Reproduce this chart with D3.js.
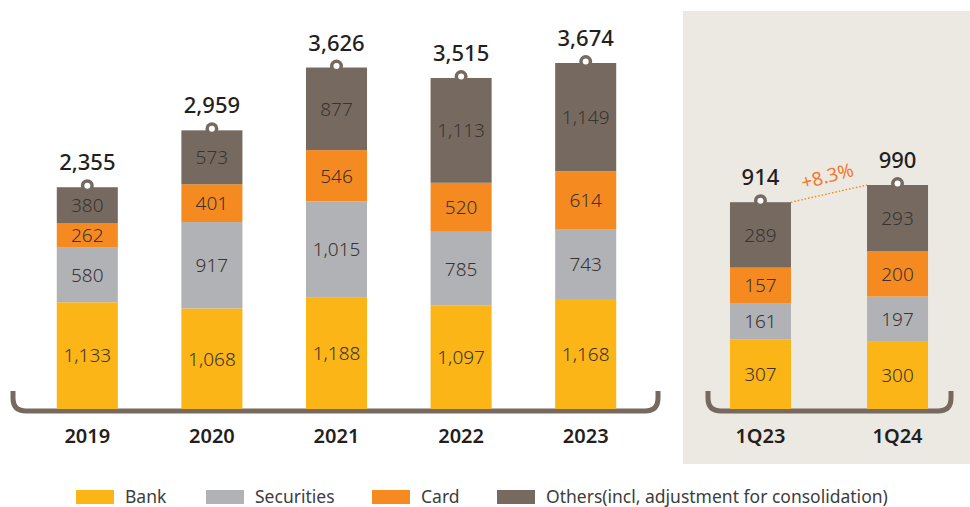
<!DOCTYPE html>
<html>
<head>
<meta charset="utf-8">
<script src="https://cdn.jsdelivr.net/npm/d3@7"></script>
<style>
  body { margin: 0; background: #fff; }
  svg { display: block; font-family: "Noto Sans", "Open Sans", sans-serif; }
</style>
</head>
<body>
<svg id="chart" width="970" height="507"></svg>
<script>
// data
var years = ['2019', '2020', '2021', '2022', '2023'];
var quarters = ['1Q23', '1Q24'];
var seriesNames = ['Bank', 'Securities', 'Card', 'Others(incl, adjustment for consolidation)'];

var bankY = [1133, 1068, 1188, 1097, 1168];
var securitiesY = [580, 917, 1015, 785, 743];
var cardY = [262, 401, 546, 520, 614];
var othersY = [380, 573, 877, 1113, 1149];

var bankQ = [307, 300];
var securitiesQ = [161, 197];
var cardQ = [157, 200];
var othersQ = [289, 293];

var growthLabel = '+8.3%';

var colors = ['#fbb516', '#b1b2b6', '#f58a21', '#766a60'];
var bracketColor = '#766a60';

var svg = d3.select('#chart');

// right panel background
svg.append('rect')
  .attr('x', 683).attr('y', 11)
  .attr('width', 287).attr('height', 453)
  .attr('fill', '#ece9e3');

function buildRows(cats, a, b, c, d) {
  return cats.map(function(k, i) {
    return {key: k, Bank: a[i], Securities: b[i], Card: c[i], Others: d[i],
      total: a[i] + b[i] + c[i] + d[i]};
  });
}

var keys = ['Bank', 'Securities', 'Card', 'Others'];
var stack = d3.stack().keys(keys);

function drawPanel(rows, x, y) {
  var g = svg.append('g');
  var layers = stack(rows);

  layers.forEach(function(layer, li) {
    layer.forEach(function(d) {
      g.append('rect')
        .attr('x', x(d.data.key))
        .attr('y', y(d[1]))
        .attr('width', x.bandwidth())
        .attr('height', y(d[0]) - y(d[1]))
        .attr('fill', colors[li]);
      g.append('text')
        .attr('x', x(d.data.key) + x.bandwidth() / 2)
        .attr('y', (y(d[0]) + y(d[1])) / 2)
        .attr('dy', '0.36em')
        .attr('text-anchor', 'middle')
        .attr('font-size', 19)
        .attr('font-weight', 300)
        .attr('fill', '#3a3330')
        .text(d3.format(',')(d[1] - d[0]));
    });
  });

  // knobs + totals
  rows.forEach(function(d) {
    var cx = x(d.key) + x.bandwidth() / 2;
    var top = y(d.total);
    g.append('circle').attr('cx', cx).attr('cy', top - 1.5).attr('r', 6.5).attr('fill', bracketColor);
    g.append('circle').attr('cx', cx).attr('cy', top - 1.5).attr('r', 3).attr('fill', '#fff');
    g.append('text')
      .attr('x', cx)
      .attr('y', top - 17)
      .attr('text-anchor', 'middle')
      .attr('font-size', 22)
      .attr('font-weight', 500)
      .attr('fill', '#231f20')
      .text(d3.format(',')(d.total));
  });

  // category labels
  rows.forEach(function(d) {
    g.append('text')
      .attr('x', x(d.key) + x.bandwidth() / 2)
      .attr('y', 443)
      .attr('text-anchor', 'middle')
      .attr('font-size', 20)
      .attr('font-weight', 600)
      .attr('fill', '#231f20')
      .text(d.key);
  });
}

function bracket(x0, x1) {
  var yb = 411, yt = 391, r = 13;
  var p = d3.path();
  p.moveTo(x0, yt);
  p.lineTo(x0, yb - r);
  p.quadraticCurveTo(x0, yb, x0 + r, yb);
  p.lineTo(x1 - r, yb);
  p.quadraticCurveTo(x1, yb, x1, yb - r);
  p.lineTo(x1, yt);
  svg.append('path')
    .attr('d', p.toString())
    .attr('fill', 'none')
    .attr('stroke', bracketColor)
    .attr('stroke-width', 5);
}

var yearRows = buildRows(years, bankY, securitiesY, cardY, othersY);
var qRows = buildRows(quarters, bankQ, securitiesQ, cardQ, othersQ);

var xL = d3.scaleBand().domain(years).range([25, 648]).paddingInner(0.51).paddingOuter(0.255);
var yL = d3.scaleLinear().domain([0, d3.max(yearRows, function(d) { return d.total; })]).range([409, 63]);

var xR = d3.scaleBand().domain(quarters).range([692, 966]).paddingInner(0.555).paddingOuter(0.277);
var yR = d3.scaleLinear().domain([0, d3.max(qRows, function(d) { return d.total; })]).range([409, 185]);

bracket(13, 658);
bracket(708, 951);

drawPanel(yearRows, xL, yL);
drawPanel(qRows, xR, yR);

// growth line between quarters
var q0 = qRows[0], q1 = qRows[1];
var lx0 = xR(q0.key) + xR.bandwidth(), ly0 = yR(q0.total);
var lx1 = xR(q1.key), ly1 = yR(q1.total);
svg.append('line')
  .attr('x1', lx0).attr('y1', ly0)
  .attr('x2', lx1).attr('y2', ly1)
  .attr('stroke', '#f58a21')
  .attr('stroke-width', 1.5)
  .attr('stroke-dasharray', '1.5,2');
var ang = Math.atan2(ly1 - ly0, lx1 - lx0) * 180 / Math.PI;
svg.append('text')
  .attr('transform', 'translate(' + ((lx0 + lx1) / 2) + ',' + ((ly0 + ly1) / 2 - 11) + ') rotate(' + (ang - 2) + ')')
  .attr('text-anchor', 'middle')
  .attr('font-size', 19)
  .attr('fill', '#f07a2e')
  .text(growthLabel);

// legend
var legendX = [76, 206, 372, 497];
var leg = svg.append('g');
seriesNames.forEach(function(n, i) {
  leg.append('rect')
    .attr('x', legendX[i]).attr('y', 490)
    .attr('width', 38).attr('height', 14)
    .attr('fill', colors[i]);
  leg.append('text')
    .attr('x', legendX[i] + 49).attr('y', 503)
    .attr('font-size', 17.5)
    .attr('fill', '#3d3d3d')
    .text(n);
});
</script>
</body>
</html>
